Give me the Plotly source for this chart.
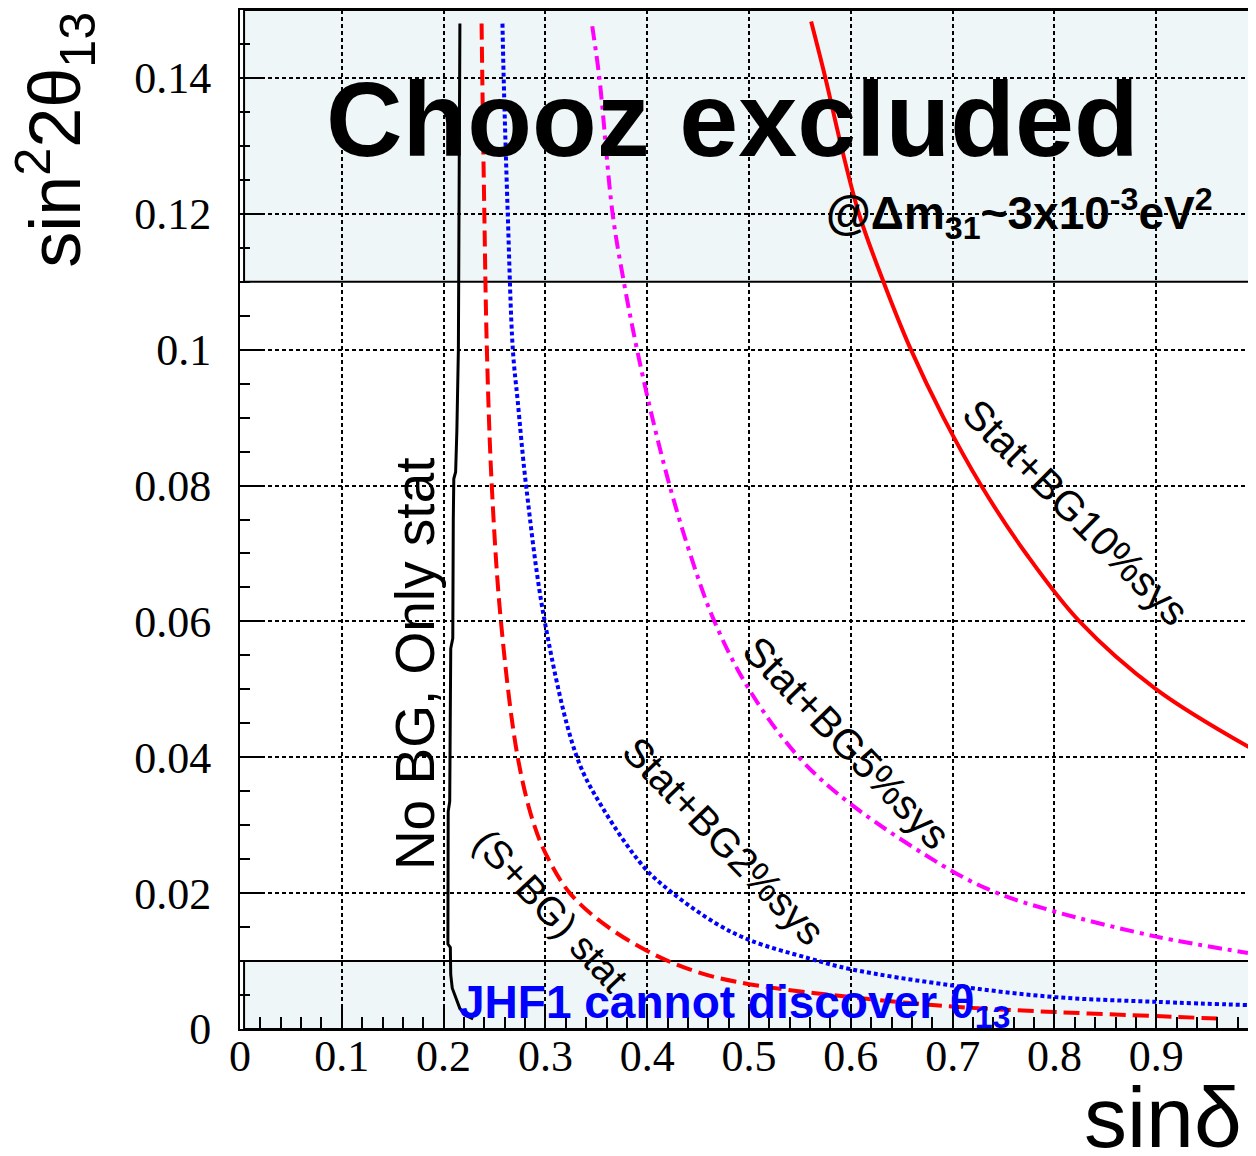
import plotly.graph_objects as go

# ---- data ----
# No BG, only stat (black solid)
nobg_x = [0.2160, 0.2155, 0.2150, 0.2145, 0.2130, 0.2118, 0.2100, 0.2095, 0.2090, 0.2070,
          0.2065, 0.2060, 0.2045, 0.2042, 0.2042, 0.2066, 0.2070, 0.2085, 0.2120, 0.2160,
          0.2220, 0.2290]
nobg_y = [0.1480, 0.1300, 0.1200, 0.1000, 0.0880, 0.0820, 0.0810, 0.0750, 0.0575, 0.0560,
          0.0450, 0.0335, 0.0320, 0.0200, 0.0125, 0.0120, 0.0080, 0.0060, 0.0045, 0.0030,
          0.0020, 0.0015]

# (S+BG) stat (red dashed)
sbg_x = [0.2373, 0.2380, 0.2400, 0.2425, 0.2473, 0.2563, 0.2728, 0.2890, 0.3030, 0.3240,
         0.3570, 0.4050, 0.4510, 0.5000, 0.6000, 0.7000, 0.8000, 0.9000, 0.9660]
sbg_y = [0.1480, 0.1400, 0.1200, 0.1000, 0.0800, 0.0600, 0.0400, 0.0300, 0.0250, 0.0200,
         0.0155, 0.0111, 0.0083, 0.0066, 0.0047, 0.0033, 0.0025, 0.0019, 0.0015]

# Stat+BG2%sys (blue dotted)
bg2_x = [0.2578, 0.2590, 0.2630, 0.2680, 0.2728, 0.2810, 0.2993, 0.3310, 0.3560, 0.3970,
         0.4250, 0.4680, 0.5020, 0.5590, 0.6000, 0.7000, 0.8000, 0.9000, 0.9940]
bg2_y = [0.1480, 0.1400, 0.1200, 0.1000, 0.0924, 0.0800, 0.0600, 0.0400, 0.0326, 0.0238,
         0.0200, 0.0155, 0.0130, 0.0104, 0.0088, 0.0064, 0.0047, 0.0040, 0.0035]

# Stat+BG5%sys (magenta dash-dot)
bg5_x = [0.3460, 0.3530, 0.3660, 0.3770, 0.3900, 0.4050, 0.4220, 0.4420, 0.4660, 0.5000,
         0.5490, 0.6000, 0.7000, 0.7440, 0.8000, 0.9000, 0.9900]
bg5_y = [0.1476, 0.1400, 0.1200, 0.1100, 0.1000, 0.0900, 0.0800, 0.0700, 0.0600, 0.0500,
         0.0400, 0.0331, 0.0232, 0.0200, 0.0173, 0.0136, 0.0112]

# Stat+BG10%sys (red solid)
bg10_x = [0.5610, 0.5750, 0.5905, 0.6080, 0.6320, 0.6590, 0.6910, 0.7280, 0.7720, 0.8246,
          0.9000, 0.9910]
bg10_y = [0.1483, 0.1400, 0.1300, 0.1200, 0.1100, 0.1000, 0.0900, 0.0800, 0.0700, 0.0600,
          0.0500, 0.0415]

# excluded regions
chooz_band = [0.11, 0.15]
jhf_band = [0.0, 0.01]

x_ticks = [0, 0.1, 0.2, 0.3, 0.4, 0.5, 0.6, 0.7, 0.8, 0.9]
x_tick_labels = ["0", "0.1", "0.2", "0.3", "0.4", "0.5", "0.6", "0.7", "0.8", "0.9"]
y_ticks = [0, 0.02, 0.04, 0.06, 0.08, 0.1, 0.12, 0.14]
y_tick_labels = ["0", "0.02", "0.04", "0.06", "0.08", "0.1", "0.12", "0.14"]

SANS = "Liberation Sans, Arial, sans-serif"
SERIF = "Liberation Serif, Times New Roman, serif"

fig = go.Figure()

fig.add_trace(go.Scatter(x=nobg_x, y=nobg_y, mode="lines",
                         line=dict(color="black", width=3), name="No BG, Only stat"))
fig.add_trace(go.Scatter(x=sbg_x, y=sbg_y, mode="lines", line_shape="spline",
                         line=dict(color="#FF0000", width=4, dash="16px,7px"), name="(S+BG) stat"))
fig.add_trace(go.Scatter(x=bg2_x, y=bg2_y, mode="lines", line_shape="spline",
                         line=dict(color="#0000FF", width=4, dash="4px,3px"), name="Stat+BG2%sys"))
fig.add_trace(go.Scatter(x=bg5_x, y=bg5_y, mode="lines", line_shape="spline",
                         line=dict(color="#FF00FF", width=4, dash="14px,6px,4px,6px"), name="Stat+BG5%sys"))
fig.add_trace(go.Scatter(x=bg10_x, y=bg10_y, mode="lines", line_shape="spline",
                         line=dict(color="#FF0000", width=4), name="Stat+BG10%sys"))

band_fill = "#EEF6F7"
for b in (chooz_band, jhf_band):
    fig.add_shape(type="rect", xref="x", yref="y", x0=0.004, x1=1.0, y0=b[0], y1=b[1],
                  fillcolor=band_fill, line=dict(color="black", width=2), layer="below")

annotations = [
    dict(x=0.4833, y=0.134, text="<b>Chooz excluded</b>", showarrow=False,
         font=dict(family=SANS, size=106, color="black"), xanchor="center", yanchor="middle"),
    dict(x=0.5735, y=0.1200, text="<b>@Δm<sub>31</sub>~3x10<sup>-3</sup>eV<sup>2</sup></b>",
         showarrow=False, font=dict(family=SANS, size=46, color="black"),
         xanchor="left", yanchor="middle"),
    dict(x=0.2127, y=0.0035, text="<b>JHF1 cannot discover θ<sub>13</sub></b>", showarrow=False,
         font=dict(family=SANS, size=46, color="#0000FF"), xanchor="left", yanchor="middle"),
    dict(x=0.1715, y=0.0538, text="No BG, Only stat", showarrow=False, textangle=-90,
         font=dict(family=SANS, size=55, color="black"), xanchor="center", yanchor="middle"),
    dict(x=0.305, y=0.0174, text="(S+BG) stat", showarrow=False, textangle=47,
         font=dict(family=SANS, size=39, color="black"), xanchor="center", yanchor="middle"),
    dict(x=0.4755, y=0.0277, text="Stat+BG2%sys", showarrow=False, textangle=46,
         font=dict(family=SANS, size=40, color="black"), xanchor="center", yanchor="middle"),
    dict(x=0.596, y=0.0421, text="Stat+BG5%sys", showarrow=False, textangle=46,
         font=dict(family=SANS, size=41, color="black"), xanchor="center", yanchor="middle"),
    dict(x=0.8216, y=0.0760, text="Stat+BG10%sys", showarrow=False, textangle=45,
         font=dict(family=SANS, size=41, color="black"), xanchor="center", yanchor="middle"),
    # axis titles
    dict(xref="paper", yref="paper", x=-0.182, y=0.873, text="sin<sup>2</sup>2θ<sub>13</sub>",
         showarrow=False, textangle=-90, font=dict(family=SANS, size=72, color="black"),
         xanchor="center", yanchor="middle"),
    dict(xref="paper", yref="paper", x=0.9104, y=-0.086, text="sinδ",
         showarrow=False, font=dict(family=SANS, size=86, color="black"),
         xanchor="center", yanchor="middle"),
]

fig.update_layout(
    width=1248, height=1148,
    margin=dict(l=232, r=0, t=0, b=127),
    paper_bgcolor="white", plot_bgcolor="white",
    showlegend=False,
    annotations=annotations,
)

grid_common = dict(showgrid=True, gridcolor="black", gridwidth=1.5, griddash="4px,3px",
                   showline=True, linecolor="black", linewidth=2, mirror=True,
                   zeroline=False, ticks="inside", tickcolor="black", tickwidth=2)

fig.update_xaxes(range=[0, 0.996], tickmode="array", tickvals=x_ticks, ticktext=x_tick_labels,
                 ticklen=24, ticklabelstandoff=-13,
                 tickfont=dict(family=SERIF, size=44, color="black"),
                 minor=dict(dtick=0.02, ticks="inside", ticklen=12, tickcolor="black",
                            tickwidth=2, showgrid=False),
                 **grid_common)
fig.update_yaxes(range=[0, 0.15], tickmode="array", tickvals=y_ticks, ticktext=y_tick_labels,
                 ticklen=24, ticklabelstandoff=18,
                 tickfont=dict(family=SERIF, size=44, color="black"),
                 minor=dict(dtick=0.005, ticks="inside", ticklen=10, tickcolor="black",
                            tickwidth=2, showgrid=False),
                 **grid_common)

fig.write_html("out.html")
